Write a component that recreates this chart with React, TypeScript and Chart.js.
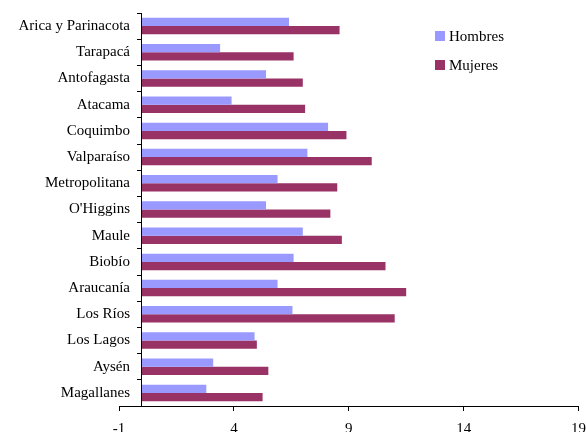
import { useRef, useEffect } from "react";
import { Chart, registerables, type Plugin } from "chart.js";

Chart.register(...registerables);

const regions: string[] = [
  "Arica y Parinacota",
  "Tarapacá",
  "Antofagasta",
  "Atacama",
  "Coquimbo",
  "Valparaíso",
  "Metropolitana",
  "O'Higgins",
  "Maule",
  "Biobío",
  "Araucanía",
  "Los Ríos",
  "Los Lagos",
  "Aysén",
  "Magallanes",
];

const hombres: number[] = [6.4, 3.4, 5.4, 3.9, 8.1, 7.2, 5.9, 5.4, 7.0, 6.6, 5.9, 6.55, 4.9, 3.1, 2.8];
const mujeres: number[] = [8.6, 6.6, 7.0, 7.1, 8.9, 10.0, 8.5, 8.2, 8.7, 10.6, 11.5, 11.0, 5.0, 5.5, 5.25];

const seriesNames = ["Hombres", "Mujeres"];
const seriesColors = ["#9999FF", "#993366"];

const FONT = "'Liberation Serif', 'Times New Roman', serif";

// let the region names run a little past the left edge of the plot, up to the x = 0 axis
const stretchLabels: Plugin<"bar"> = {
  id: "stretchLabels",
  afterLayout(chart) {
    const s = chart.scales.yLabels;
    if (s) s.right = chart.chartArea.left + 11;
  },
};

export default function App() {
  const canvasRef = useRef<HTMLCanvasElement>(null);

  useEffect(() => {
    if (!canvasRef.current) return;
    const chart = new Chart(canvasRef.current, {
      type: "bar",
      plugins: [stretchLabels],
      data: {
        labels: regions,
        datasets: [hombres, mujeres].map((values, i) => ({
          label: seriesNames[i],
          data: values,
          backgroundColor: seriesColors[i],
          borderWidth: 0,
          categoryPercentage: 0.63,
          barPercentage: 1.0,
        })),
      },
      options: {
        indexAxis: "y",
        animation: false,
        responsive: false,
        maintainAspectRatio: false,
        layout: { padding: { left: 0, right: 0, top: 13, bottom: 3 } },
        plugins: {
          legend: { display: false },
          tooltip: { enabled: false },
        },
        scales: {
          x: {
            min: -1,
            max: 19,
            ticks: {
              stepSize: 5,
              color: "#000",
              padding: 9,
              font: { family: FONT, size: 15 },
            },
            grid: {
              drawOnChartArea: false,
              drawTicks: true,
              tickLength: 5,
              color: "#000",
            },
            border: { color: "#000", width: 1 },
          },
          // axis line and tick marks, sitting at x = 0
          y: {
            position: { x: 0 },
            ticks: { display: false },
            grid: {
              drawOnChartArea: false,
              drawTicks: true,
              tickLength: 4,
              color: "#000",
              offset: true,
            },
            border: { color: "#000", width: 1 },
          },
          // region names only
          yLabels: {
            type: "category",
            position: "left",
            offset: true,
            grid: { display: false, drawTicks: false, tickLength: 0 },
            border: { display: false },
            ticks: {
              color: "#000",
              padding: 0,
              font: { family: FONT, size: 15 },
            },
            afterFit: (scale: any) => {
              scale.width = 119;
            },
          },
        },
      },
    });
    return () => chart.destroy();
  }, []);

  return (
    <div style={{ position: "fixed", left: 0, top: 0, width: 595, height: 450, background: "#fff" }}>
      <canvas ref={canvasRef} width={595} height={450} style={{ display: "block" }} />
      {seriesNames.map((name, i) => (
        <div
          key={name}
          style={{
            position: "absolute",
            left: 435,
            top: 26 + i * 29,
            display: "flex",
            alignItems: "center",
            fontFamily: FONT,
            fontSize: 15,
            color: "#000",
            lineHeight: "20px",
          }}
        >
          <span style={{ width: 10, height: 10, background: seriesColors[i], marginRight: 4 }} />
          <span>{name}</span>
        </div>
      ))}
    </div>
  );
}
